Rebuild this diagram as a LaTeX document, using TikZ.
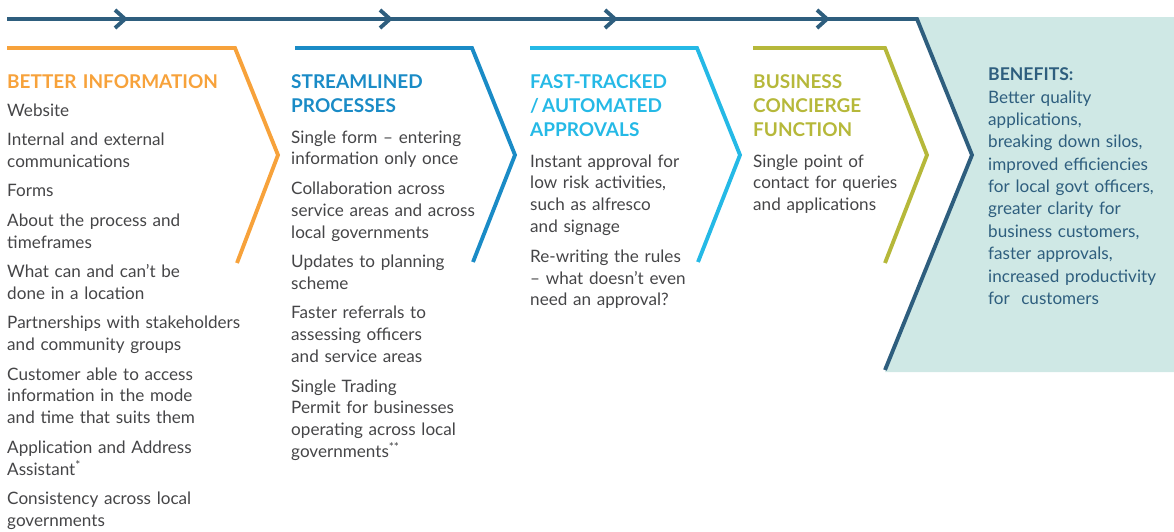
\documentclass[tikz,border=0pt]{standalone}
\usepackage{fontspec}
\setmainfont{Lato}
\definecolor{infoorange}{HTML}{F7A23B}
\definecolor{procblue}{HTML}{1A8BC6}
\definecolor{fastcyan}{HTML}{25B9E6}
\definecolor{conolive}{HTML}{B6B83A}
\definecolor{pathblue}{HTML}{2E5E7E}
\definecolor{benefitfill}{HTML}{CFE8E5}
\definecolor{bodygray}{HTML}{454547}
\begin{document}
\begin{tikzpicture}[x=0.03cm,y=-0.03cm,line join=miter,
	stage/.style={line width=3.3pt},
	colhead/.style={anchor=base west,inner sep=0pt,text width=8cm,align=left,font=\bfseries\fontsize{16.2}{20.5}\selectfont},
	colbody/.style={anchor=base west,inner sep=0pt,text width=8cm,align=left,text=bodygray,font=\fontsize{14.6}{18.7}\selectfont}]
		\def\itemgap{6.4pt}
		\useasboundingbox (0,0) rectangle (1174,532);
		% benefits panel
		\fill[benefitfill] (917,17) -- (1174,17) -- (1174,372) -- (885,372) -- (972,155) -- cycle;
		\draw[stage,draw=pathblue] (7,19) -- (917,19) -- (972,155) -- (885,370);
		\foreach \cx in {120,385,610,822}
			\draw[stage,draw=pathblue] (\cx-5,10) -- (\cx+5,19) -- (\cx-5,28);
		% stages
		\draw[stage,draw=infoorange] (7,48) -- (235,48) -- (278,155) -- (237,263);
		\draw[stage,draw=procblue] (295,48) -- (472,48) -- (515,155) -- (473,262);
		\draw[stage,draw=fastcyan] (530,48) -- (697,48) -- (740,155) -- (698,262);
		\draw[stage,draw=conolive] (753,48) -- (885,48) -- (927,155) -- (885,263);
		% texts
		\node[colhead,text=infoorange] (hdInfo) at (7,88) {BETTER INFORMATION};
		\node[colbody] (txtInfo) at (7,116) {Website\\[\itemgap]
			Internal and external\\communications\\[\itemgap]
			Forms\\[\itemgap]
			About the process and\\timeframes\\[\itemgap]
			What can and can’t be\\done in a location\\[\itemgap]
			Partnerships with stakeholders\\and community groups\\[\itemgap]
			Customer able to access\\information in the mode\\and time that suits them\\[\itemgap]
			Application and Address\\Assistant\textsuperscript{*}\\[\itemgap]
			Consistency across local\\governments};
		\node[colhead,text=procblue] (hdProc) at (291,88) {STREAMLINED\\PROCESSES};
		\node[colbody] (txtProc) at (291,143) {Single form – entering\\information only once\\[\itemgap]
			Collaboration across\\service areas and across\\local governments\\[\itemgap]
			Updates to planning\\scheme\\[\itemgap]
			Faster referrals to\\assessing officers\\and service areas\\[\itemgap]
			Single Trading\\Permit for businesses\\operating across local\\governments\textsuperscript{**}};
		\node[colhead,text=fastcyan] (hdFast) at (530,88) {FAST-TRACKED\\/\,AUTOMATED\\APPROVALS};
		\node[colbody] (txtFast) at (530,167) {Instant approval for\\low risk activities,\\such as alfresco\\and signage\\[\itemgap]
			Re-writing the rules\\– what doesn’t even\\need an approval?};
		\node[colhead,text=conolive] (hdCon) at (753,88) {BUSINESS\\CONCIERGE\\FUNCTION};
		\node[colbody] (txtCon) at (753,167) {Single point of\\contact for queries\\and applications};
		\node[colhead,text=pathblue,font=\bfseries\fontsize{15}{19}\selectfont] (hdBen) at (988,80) {BENEFITS:};
		\node[colbody,text=pathblue,font=\fontsize{14.6}{19.1}\selectfont] (txtBen) at (988,103) {Better quality\\applications,\\breaking down silos,\\improved efficiencies\\for local govt officers,\\greater clarity for\\business customers,\\faster approvals,\\increased productivity\\for~ customers};
	\end{tikzpicture}
\end{document}
